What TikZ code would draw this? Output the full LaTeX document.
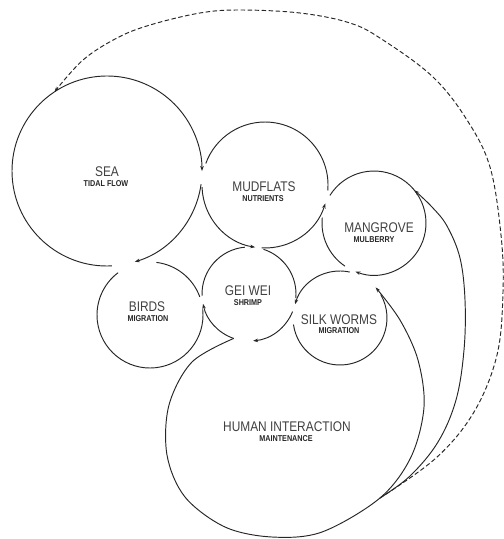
\documentclass[tikz,border=0pt]{standalone}
\usepackage{fontspec}
\setmainfont{Liberation Sans}
\newfontfamily\lblfont[FakeStretch=0.85]{Liberation Sans}
\usetikzlibrary{arrows.meta,calc}
\begin{document}
\begin{tikzpicture}[x=1pt,y=-1pt,
  ln/.style={line width=0.95pt, draw=black!85},
  tip/.style={-{Stealth[length=5pt,width=3.6pt]}},
  dsh/.style={ln, dash pattern=on 4.5pt off 2.5pt},
  ttl/.style={font=\lblfont\fontsize{14}{14}\selectfont, text=black!75, inner sep=0pt},
  sub/.style={font=\lblfont\bfseries\fontsize{8.5}{8.5}\selectfont, text=black!85, inner sep=0pt}]
\useasboundingbox (0,0) rectangle (504,539);
% circle centres
\coordinate (sea) at (107,171);
\coordinate (mud) at (265,185);
\coordinate (man) at (374,223);
\coordinate (gei) at (249,294);
\coordinate (bird) at (150,315);
\coordinate (silk) at (340,318);
% labels
\node[ttl] (seat) at (107,172) {SEA};
\node[sub] (seas) at (106,184) {TIDAL FLOW};
\node[ttl] (mudt) at (264,187) {MUDFLATS};
\node[sub] (muds) at (263,199) {NUTRIENTS};
\node[ttl] (mant) at (379,228) {MANGROVE};
\node[sub] (mans) at (374,239.5) {MULBERRY};
\node[ttl] (geit) at (248,291) {GEI WEI};
\node[sub] (geis) at (248,303) {SHRIMP};
\node[ttl] (birdt) at (147,307) {BIRDS};
\node[sub] (birds) at (148,319) {MIGRATION};
\node[ttl] (silkt) at (339,320) {SILK WORMS};
\node[sub] (silks) at (339,331) {MIGRATION};
\node[ttl] (humt) at (287,427) {HUMAN INTERACTION};
\node[sub] (hums) at (286,439) {MAINTENANCE};
% SEA
\draw[ln,tip] ($(sea)+(87:95)$) arc[start angle=87,end angle=360,radius=95];
\draw[ln,tip] ($(sea)+(8:95)$) arc[start angle=8,end angle=73,radius=95];
% MUDFLATS
\draw[ln,tip] ($(mud)+(178:63)$) arc[start angle=178,end angle=99,radius=63];
\draw[ln,tip] ($(mud)+(93:63)$) arc[start angle=93,end angle=17,radius=63];
\draw[ln] ($(mud)+(5:63)$) arc[start angle=5,end angle=-160,radius=63];
% MANGROVE
\draw[ln,tip] ($(man)+(212:52)$) arc[start angle=212,end angle=471,radius=52];
\draw[ln] ($(man)+(124:52)$) arc[start angle=124,end angle=186,radius=52];
% SILK WORMS
\draw[ln,tip] ($(silk)+(282:47)$) arc[start angle=282,end angle=197,radius=47];
\draw[ln] ($(silk)+(172:47)$) arc[start angle=172,end angle=-30,radius=47];
% GEI WEI
\draw[ln] ($(gei)+(178:47)$) arc[start angle=178,end angle=265,radius=47];
\draw[ln] ($(gei)+(288:47)$) arc[start angle=288,end angle=365,radius=47];
\draw[ln,tip] ($(gei)+(22:47)$) arc[start angle=22,end angle=85,radius=47];
\draw[ln,tip] ($(gei)+(109:47)$) arc[start angle=109,end angle=168,radius=47];
% BIRDS
\draw[ln] ($(bird)+(277:53)$) arc[start angle=277,end angle=340,radius=53];
\draw[ln] ($(bird)+(354:53)$) arc[start angle=354,end angle=593,radius=53];
% connector end points
\coordinate (hs) at ($(gei)+(109:47)$);
\coordinate (he) at ($(silk)+(-40.6:47)$);
\coordinate (J) at (380,498);
\coordinate (mgin) at ($(man)+(-39:52)$);
\coordinate (seain) at ($(sea)+(-123.5:95)$);
% HUMAN INTERACTION loop
\draw[ln,tip] plot[smooth,tension=0.55] coordinates {(hs) (192,362) (169,405) (167,455) (185,497) (225,527) (272,537) (322,532) (J) (411,457) (424,407) (418,360) (400,320) (he)};
% to MANGROVE
\draw[ln,tip] plot[smooth,tension=0.6] coordinates {(J) (410,476) (438,442) (456,400) (464,350) (465,300) (460,258) (447,226) (432,207) (mgin)};
% dashed to SEA
\draw[dsh,tip] plot[smooth,tension=0.6] coordinates {(J) (436,458) (474,412) (497,355) (503,292) (501,235) (490,167) (467,120) (433,77) (383,40) (350,23) (300,13) (240,10) (200,13) (150,25) (117,38) (83,60) (seain)};
\end{tikzpicture}
\end{document}
